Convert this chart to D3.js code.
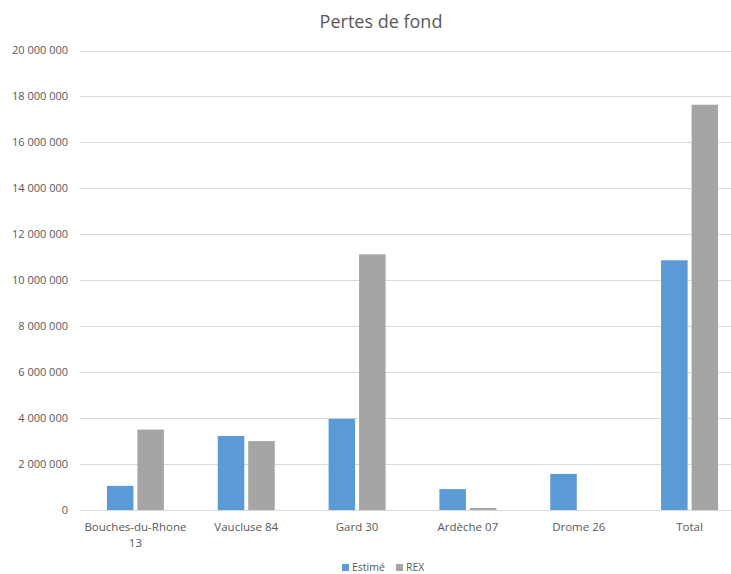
<!DOCTYPE html>
<html><head><meta charset="utf-8">
<script src="https://cdn.jsdelivr.net/npm/d3@7"></script>
<style>body{margin:0;background:#fff}svg{display:block}</style>
</head><body>
<script>
const categories = [["Bouches-du-Rhone","13"],["Vaucluse 84"],["Gard 30"],["Ardèche 07"],["Drome 26"],["Total"]];
const seriesNames = ["Estimé","REX"];
const estime = [1050000, 3220000, 3970000, 910000, 1570000, 10870000];
const rex = [3500000, 3000000, 11130000, 90000, 0, 17640000];
const yTicks = [0,2000000,4000000,6000000,8000000,10000000,12000000,14000000,16000000,18000000,20000000];
const colors = ["#5B9BD5","#A5A5A5"];

const W = 731, H = 574;
const svg = d3.select("body").append("svg").attr("width", W).attr("height", H);
const font = "'Open Sans', 'Liberation Sans', sans-serif";
const txt = "#595959";

const y = d3.scaleLinear().domain([0, 20000000]).range([510, 50.5]);
const keys = categories.map((c,i)=>i);
const x = d3.scaleBand().domain(keys).range([80, 745]).paddingInner(0).paddingOuter(0);
const xs = d3.scaleBand().domain([0,1]).range([x.bandwidth()/2 - 28.5, x.bandwidth()/2 + 28.5]).paddingInner(0.13);

const fmt = v => d3.format(",")(v).replace(/,/g, " ");

// grid
const gy = svg.append("g");
gy.selectAll("line").data(yTicks).join("line")
  .attr("x1", 80).attr("x2", 745)
  .attr("y1", d=>Math.round(y(d))+0.5).attr("y2", d=>Math.round(y(d))+0.5)
  .attr("stroke", "#D9D9D9").attr("stroke-width", 1);
gy.selectAll("text").data(yTicks).join("text")
  .attr("x", 68).attr("y", d=>y(d)).attr("dy","0.35em")
  .attr("text-anchor","end").attr("font-family",font).attr("font-size",11).attr("fill",txt)
  .text(fmt);

// bars
const data = [estime, rex];
const gBars = svg.append("g");
keys.forEach(i => {
  const g = gBars.append("g").attr("transform", `translate(${x(i)},0)`);
  g.selectAll("rect").data([0,1]).join("rect")
    .attr("x", s=>xs(s)).attr("width", xs.bandwidth())
    .attr("y", s=>y(data[s][i])).attr("height", s=>y(0)-y(data[s][i]))
    .attr("fill", s=>colors[s]);
});

// x labels
const gx = svg.append("g");
keys.forEach(i => {
  const t = gx.append("text").attr("x", x(i)+x.bandwidth()/2).attr("y", 531)
    .attr("text-anchor","middle").attr("font-family",font).attr("font-size",11.5).attr("fill",txt);
  categories[i].forEach((line, j) => {
    t.append("tspan").attr("x", x(i)+x.bandwidth()/2).attr("dy", j===0?0:16).text(line);
  });
});

// title
svg.append("text").attr("x", 381).attr("y", 28).attr("text-anchor","middle")
  .attr("font-family",font).attr("font-size",18).attr("fill",txt).text("Pertes de fond");

// legend
const lg = svg.append("g");
const lx = [342, 396];
seriesNames.forEach((n,s)=>{
  lg.append("rect").attr("x", lx[s]).attr("y", 564).attr("width",7).attr("height",7).attr("fill",colors[s]);
  lg.append("text").attr("x", lx[s]+10).attr("y", 567.5).attr("dy","0.35em")
    .attr("font-family",font).attr("font-size",10.5).attr("fill",txt).text(n);
});
</script>
</body></html>
